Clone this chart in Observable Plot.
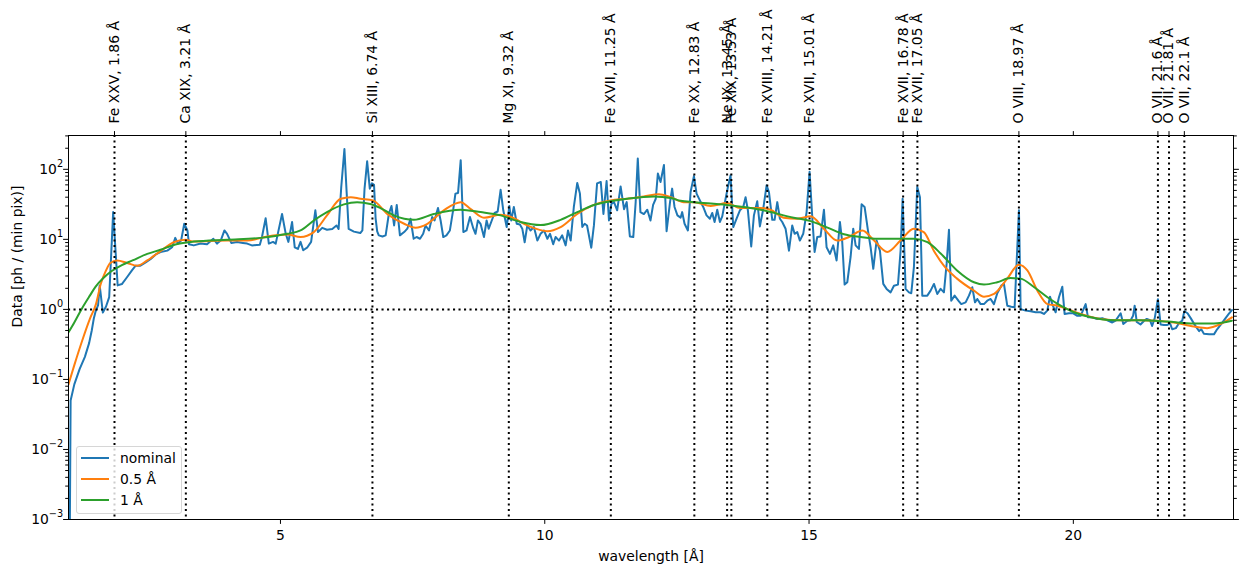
<!DOCTYPE html>
<html>
<head>
<meta charset="utf-8">
<script src="https://cdn.jsdelivr.net/npm/d3@7"></script>
<script src="https://cdn.jsdelivr.net/npm/@observablehq/plot@0.6"></script>
<style>
  html, body { margin: 0; padding: 0; background: #fff; }
  #wrap { position: relative; width: 1240px; height: 575px; font-family: "DejaVu Sans", sans-serif; }
  #legend {
    position: absolute; left: 76px; top: 446px; width: 104px; height: 66px;
    border: 1px solid #d6d6d6; border-radius: 3px; background: rgba(255,255,255,0.8);
    font-size: 13.9px; color: #000;
  }
  .row { position: absolute; left: 0; height: 18px; display: flex; align-items: center; }
  .sw { width: 28px; height: 2px; margin-left: 4px; margin-right: 11px; }
</style>
</head>
<body>
<div id="wrap"></div>
<script>
// Emission lines marked on the spectrum
const lineWaves = [1.86, 3.21, 6.74, 9.32, 11.25, 12.83, 13.45, 13.53, 14.21, 15.01, 16.78, 17.05, 18.97, 21.6, 21.81, 22.1];
const lineIons = ["Fe XXV", "Ca XIX", "Si XIII", "Mg XI", "Fe XVII", "Fe XX", "Ne IX", "Fe XIX", "Fe XVIII", "Fe XVII", "Fe XVII", "Fe XVII", "O VIII", "O VII", "O VII", "O VII"];

// Axis ticks
const xTicks = [5, 10, 15, 20];
const yMajor = [1e-3, 1e-2, 1e-1, 1, 10, 100];

// Nominal spectrum [ph / (min pix)]
const nominalWave = [1.00, 1.03, 1.10, 1.20, 1.30, 1.38, 1.43, 1.47, 1.50, 1.55, 1.58, 1.64, 1.70, 1.76, 1.835, 1.92, 2.00, 2.10, 2.19, 2.26, 2.35, 2.45, 2.54, 2.64, 2.73, 2.86, 2.95, 3.01, 3.06, 3.12, 3.18, 3.24, 3.27, 3.36, 3.49, 3.61, 3.73, 3.80, 3.87, 3.94, 3.99, 4.07, 4.18, 4.29, 4.37, 4.46, 4.61, 4.65, 4.72, 4.78, 4.86, 4.91, 5.03, 5.10, 5.15, 5.22, 5.27, 5.33, 5.38, 5.43, 5.51, 5.58, 5.66, 5.71, 5.79, 5.88, 5.98, 6.06, 6.10, 6.15, 6.21, 6.25, 6.29, 6.39, 6.51, 6.55, 6.59, 6.64, 6.69, 6.73, 6.77, 6.80, 6.83, 6.86, 6.93, 6.99, 7.05, 7.10, 7.15, 7.20, 7.26, 7.34, 7.40, 7.46, 7.52, 7.575, 7.64, 7.70, 7.745, 7.81, 7.87, 7.915, 7.98, 8.03, 8.08, 8.14, 8.205, 8.27, 8.31, 8.36, 8.41, 8.46, 8.52, 8.585, 8.65, 8.69, 8.735, 8.785, 8.85, 8.90, 8.94, 9.01, 9.05, 9.11, 9.165, 9.215, 9.28, 9.33, 9.365, 9.415, 9.47, 9.53, 9.575, 9.62, 9.67, 9.73, 9.795, 9.86, 9.92, 9.985, 10.05, 10.10, 10.16, 10.205, 10.27, 10.33, 10.395, 10.44, 10.49, 10.55, 10.615, 10.665, 10.71, 10.755, 10.80, 10.88, 10.93, 10.99, 11.06, 11.11, 11.17, 11.215, 11.26, 11.31, 11.37, 11.435, 11.50, 11.55, 11.61, 11.675, 11.72, 11.76, 11.81, 11.875, 11.94, 12.00, 12.05, 12.10, 12.14, 12.19, 12.255, 12.305, 12.37, 12.41, 12.455, 12.51, 12.57, 12.60, 12.645, 12.708, 12.759, 12.822, 12.872, 12.935, 12.998, 13.061, 13.124, 13.169, 13.213, 13.263, 13.314, 13.358, 13.421, 13.465, 13.515, 13.566, 13.629, 13.692, 13.755, 13.799, 13.843, 13.906, 13.957, 14.02, 14.07, 14.134, 14.197, 14.241, 14.304, 14.348, 14.399, 14.449, 14.493, 14.556, 14.62, 14.682, 14.727, 14.777, 14.827, 14.89, 14.954, 15.01, 15.061, 15.105, 15.155, 15.218, 15.282, 15.332, 15.395, 15.458, 15.521, 15.584, 15.628, 15.673, 15.723, 15.786, 15.836, 15.881, 15.944, 15.994, 16.051, 16.114, 16.165, 16.215, 16.278, 16.341, 16.404, 16.467, 16.543, 16.606, 16.682, 16.732, 16.77, 16.827, 16.89, 16.934, 16.984, 17.047, 17.098, 17.142, 17.237, 17.30, 17.363, 17.426, 17.489, 17.552, 17.603, 17.647, 17.69, 17.754, 17.836, 17.88, 17.962, 18.025, 18.088, 18.139, 18.183, 18.246, 18.309, 18.372, 18.435, 18.498, 18.561, 18.637, 18.687, 18.75, 18.826, 18.889, 18.94, 18.971, 19.003, 19.097, 19.192, 19.287, 19.381, 19.444, 19.507, 19.558, 19.602, 19.665, 19.728, 19.791, 19.835, 19.917, 19.999, 20.075, 20.138, 20.233, 20.277, 20.359, 20.453, 20.548, 20.643, 20.737, 20.80, 20.895, 20.945, 21.021, 21.084, 21.13, 21.16, 21.20, 21.27, 21.34, 21.39, 21.45, 21.49, 21.54, 21.60, 21.65, 21.715, 21.78, 21.83, 21.87, 21.94, 22.00, 22.06, 22.10, 22.16, 22.22, 22.31, 22.38, 22.42, 22.47, 22.57, 22.66, 22.72, 22.80, 22.88, 22.94, 23.00];
const nominalFlux = [0.00001, 0.05, 0.085, 0.14, 0.21, 0.33, 0.50, 0.75, 0.92, 1.15, 2.2, 0.9, 1.1, 1.5, 24.5, 2.2, 2.3, 2.9, 3.6, 4.2, 4.2, 4.7, 5.2, 6.1, 6.6, 6.9, 7.7, 10.5, 8.7, 9.6, 16.7, 13.4, 8.5, 8.2, 8.7, 8.5, 10.2, 8.7, 9.6, 13.4, 12, 8.9, 9.2, 8.9, 8.7, 8.2, 8.4, 10.8, 20, 8.7, 9.2, 8.7, 23, 12, 9.2, 17.7, 7.7, 7.3, 9.2, 7.0, 7.7, 9.2, 26, 12.7, 14.6, 13.7, 14.1, 15.8, 14.1, 56, 195, 50, 14.1, 12.9, 12.3, 13.4, 52, 130, 53, 63, 60, 20, 13, 11.4, 11, 11.4, 23, 30, 15.8, 31, 11.4, 12.7, 14.2, 19.7, 10.2, 10.8, 10.2, 12, 15.8, 13.4, 20.8, 18.6, 28, 18.6, 10.8, 11.4, 13.4, 27, 45, 46, 135, 12.7, 13.4, 20.8, 14.2, 12, 18.6, 16.7, 10.8, 18.6, 14.2, 19.7, 23.8, 25, 51, 26, 15, 30, 18.6, 29, 16.7, 16.3, 14.2, 9.1, 15.8, 13.4, 15, 9.6, 12, 13.4, 10.2, 12, 8.5, 10.8, 9.6, 11.4, 8.2, 13.4, 9.6, 29, 64, 45, 15, 16.7, 15.8, 7.6, 15.8, 63, 66, 23, 68, 18.6, 32, 34, 26, 57, 27, 34, 11, 10.8, 34, 143, 24.5, 23, 26.5, 18.6, 31, 38, 87, 66, 115, 13.1, 34, 53, 29, 22, 20.4, 24.5, 16.7, 13.4, 47.5, 80, 45, 36, 29, 22, 19.7, 23.8, 17.7, 26.5, 17.7, 21.3, 38, 56, 82, 15, 19.7, 26, 29, 40, 26, 7.9, 22, 35, 15.3, 27.4, 59, 47.5, 19, 19, 34, 19.7, 17.7, 14.2, 6.9, 15.8, 12, 12.7, 9.6, 12, 24.5, 92, 20.8, 6.6, 10.8, 11, 26.5, 7.7, 6.2, 8.2, 5.0, 17.7, 9.1, 2.26, 2.44, 5.6, 14.2, 8.2, 7.3, 31.6, 29, 13.4, 7.7, 3.8, 9.6, 6.9, 2.31, 1.96, 1.75, 2.18, 2.26, 6.9, 38, 1.96, 1.75, 1.70, 4.0, 56, 40, 1.57, 1.57, 1.85, 2.31, 1.66, 1.96, 1.75, 4.5, 13.7, 1.33, 1.57, 1.30, 1.19, 1.26, 1.57, 2.07, 1.26, 1.41, 1.19, 1.19, 1.33, 1.41, 1.19, 1.70, 2.18, 2.31, 1.13, 1.09, 1.07, 7.7, 26, 1.01, 0.96, 0.94, 0.91, 0.91, 0.86, 0.96, 1.52, 1.19, 0.91, 1.49, 2.11, 0.86, 0.88, 0.88, 0.81, 0.81, 1.19, 0.77, 0.77, 0.73, 0.75, 0.70, 0.65, 0.69, 0.88, 0.62, 0.69, 0.70, 0.81, 1.13, 0.66, 0.61, 0.69, 0.73, 0.70, 0.58, 0.75, 1.4, 0.61, 0.60, 0.60, 0.63, 0.52, 0.54, 0.64, 0.69, 0.94, 0.88, 0.75, 0.58, 0.49, 0.52, 0.45, 0.44, 0.44, 0.52, 0.62, 0.75, 0.86, 0.98];

// Spectrum smoothed with a 0.5 Å kernel
const smooth05Wave = [0.99, 1.10, 1.25, 1.40, 1.51, 1.60, 1.70, 1.78, 1.91, 2.10, 2.29, 2.48, 2.73, 2.98, 3.20, 3.36, 3.99, 4.37, 4.75, 5.13, 5.38, 5.63, 5.88, 6.14, 6.33, 6.51, 6.75, 7.02, 7.34, 7.555, 7.78, 8.09, 8.41, 8.60, 8.85, 9.165, 9.35, 9.67, 10.05, 10.30, 10.615, 10.93, 11.245, 11.56, 11.875, 12.16, 12.38, 12.63, 12.82, 13.14, 13.45, 13.70, 14.08, 14.27, 14.52, 14.78, 15.03, 15.28, 15.53, 15.755, 16.01, 16.23, 16.48, 16.73, 16.98, 17.17, 17.36, 17.55, 17.80, 18.12, 18.31, 18.50, 18.75, 18.97, 19.13, 19.32, 19.51, 19.70, 19.89, 20.14, 20.52, 20.89, 21.27, 21.59, 21.90, 22.28, 22.53, 22.79, 23.00];
const smooth05Flux = [0.085, 0.16, 0.36, 0.75, 1.19, 2.3, 3.6, 4.6, 5.0, 4.6, 4.2, 5.0, 6.8, 9.1, 9.9, 9.3, 9.6, 9.6, 11.0, 11.7, 10.8, 12.7, 22, 38, 40, 38, 36, 23, 16.7, 14.7, 16.7, 26, 34, 27, 20.4, 22.5, 21, 15.8, 13.1, 15, 23, 31, 36, 38, 41, 44, 40, 34, 34, 30, 33, 28, 28, 26.5, 20.4, 19.7, 21.3, 14.2, 9.6, 10.8, 13.4, 9.6, 6.6, 9.6, 14.2, 12.7, 6.9, 4.2, 2.75, 1.85, 1.52, 1.66, 2.75, 4.35, 3.6, 1.85, 1.19, 1.13, 1.01, 0.86, 0.73, 0.70, 0.70, 0.69, 0.65, 0.57, 0.54, 0.62, 0.77];

// Spectrum smoothed with a 1 Å kernel
const smooth1Wave = [0.99, 1.10, 1.25, 1.40, 1.50, 1.65, 1.80, 2.00, 2.20, 2.48, 2.73, 3.05, 3.36, 3.99, 4.62, 5.13, 5.38, 5.63, 5.88, 6.20, 6.45, 6.70, 6.89, 7.145, 7.525, 7.90, 8.41, 8.785, 9.165, 9.54, 9.92, 10.30, 10.615, 10.93, 11.245, 11.56, 12.07, 12.38, 12.57, 12.82, 13.45, 14.08, 14.71, 15.03, 15.35, 15.66, 15.98, 16.29, 16.61, 16.98, 17.24, 17.49, 17.80, 18.12, 18.31, 18.56, 18.81, 19.00, 19.26, 19.51, 19.76, 20.01, 20.33, 20.77, 21.27, 21.78, 22.28, 22.66, 23.00];
const smooth1Flux = [0.47, 0.65, 1.05, 1.6, 2.1, 2.8, 3.5, 4.3, 5.0, 6.2, 7.1, 8.6, 9.3, 9.9, 10.5, 12, 13.4, 18.6, 24.5, 31.6, 34, 32, 28, 22, 19, 23, 26.5, 24.5, 22, 17.7, 16, 19, 24.5, 31, 35, 38, 41, 39, 35.5, 34, 31, 26.5, 20.4, 18.2, 14.7, 11.8, 10.8, 10.2, 10.2, 10.2, 9.1, 6.3, 3.6, 2.44, 2.26, 2.44, 2.8, 2.75, 2.07, 1.49, 1.13, 0.91, 0.77, 0.70, 0.70, 0.67, 0.63, 0.63, 0.69];

const seriesColors = ["#1f77b4", "#ff7f0e", "#2ca02c"];
const seriesNames = ["nominal", "0.5 Å", "1 Å"];

// Tables built from the arrays above
const nominal = nominalWave.map((w, i) => ({w, f: nominalFlux[i]}));
const smooth05 = smooth05Wave.map((w, i) => ({w, f: smooth05Flux[i]}));
const smooth1 = smooth1Wave.map((w, i) => ({w, f: smooth1Flux[i]}));
const lineLabels = lineWaves.map((w, i) => ({w, label: `${lineIons[i]}, ${w} Å`}));
const yMinor = [];
for (let e = -3; e <= 2; e++) for (let k = 2; k <= 9; k++) { const v = k * 10 ** e; if (v <= 304) yMinor.push(v); }

const dotted = {stroke: "black", strokeWidth: 2, strokeDasharray: "2.1,3.4"};
const blank = () => "";

const chart = Plot.plot({
  width: 1240,
  height: 575,
  marginLeft: 68,
  marginRight: 7,
  marginTop: 135,
  marginBottom: 56,
  style: {fontFamily: "DejaVu Sans", fontSize: "13.9px", color: "black", background: "white", overflow: "visible"},
  x: {domain: [0.99, 23.03]},
  y: {type: "log", domain: [1e-3, 304]},
  marks: [
    Plot.line(nominal, {x: "w", y: "f", stroke: seriesColors[0], strokeWidth: 2, clip: true}),
    Plot.line(smooth05, {x: "w", y: "f", stroke: seriesColors[1], strokeWidth: 2, curve: "monotone-x", clip: true}),
    Plot.line(smooth1, {x: "w", y: "f", stroke: seriesColors[2], strokeWidth: 2, curve: "monotone-x", clip: true}),
    Plot.ruleX(lineWaves, dotted),
    Plot.ruleY([1], dotted),
    Plot.frame({stroke: "black", strokeWidth: 1}),
    Plot.axisX({anchor: "bottom", ticks: xTicks, tickSize: 4.9, tickPadding: 6, tickFormat: d => String(d), label: null}),
    Plot.axisX({anchor: "top", ticks: [...xTicks, ...lineWaves], tickSize: 4.9, tickFormat: blank, label: null}),
    Plot.axisY({anchor: "left", ticks: yMajor, tickSize: 4.9, tickPadding: 0.5, tickFormat: d => "10^" + Math.round(Math.log10(d)), label: null}),
    Plot.axisY({anchor: "left", ticks: yMinor, tickSize: 2.8, tickFormat: blank, label: null}),
    Plot.axisY({anchor: "right", ticks: yMajor, tickSize: 4.9, tickFormat: blank, label: null}),
    Plot.axisY({anchor: "right", ticks: yMinor, tickSize: 2.8, tickFormat: blank, label: null}),
    Plot.text(lineLabels, {x: "w", text: "label", frameAnchor: "top", rotate: -90, textAnchor: "start", lineAnchor: "middle", dy: -12, fill: "black"}),
    Plot.text(["Data [ph / (min pix)]"], {text: d => d, frameAnchor: "left", rotate: -90, dx: -51, lineAnchor: "middle", fill: "black"}),
    Plot.text(["wavelength [Å]"], {text: d => d, frameAnchor: "bottom", dy: 37, lineAnchor: "middle", fill: "black"})
  ]
});

// Render powers of ten with a raised exponent
chart.querySelectorAll('g[aria-label="y-axis tick label"] text').forEach(t => {
  const s = t.textContent;
  if (!s.includes("^")) return;
  const exp = s.split("^")[1].replace("-", "\u2212");
  t.textContent = "10";
  const sup = document.createElementNS("http://www.w3.org/2000/svg", "tspan");
  sup.setAttribute("dy", "-7");
  sup.setAttribute("font-size", "9.7px");
  sup.textContent = exp;
  t.appendChild(sup);
});

const wrap = document.getElementById("wrap");
wrap.appendChild(chart);

// Legend
const legend = document.createElement("div");
legend.id = "legend";
seriesNames.forEach((name, i) => {
  const row = document.createElement("div");
  row.className = "row";
  row.style.top = (2 + i * 21) + "px";
  const sw = document.createElement("span");
  sw.className = "sw";
  sw.style.background = seriesColors[i];
  const label = document.createElement("span");
  label.textContent = name;
  row.appendChild(sw);
  row.appendChild(label);
  legend.appendChild(row);
});
wrap.appendChild(legend);
</script>
</body>
</html>
